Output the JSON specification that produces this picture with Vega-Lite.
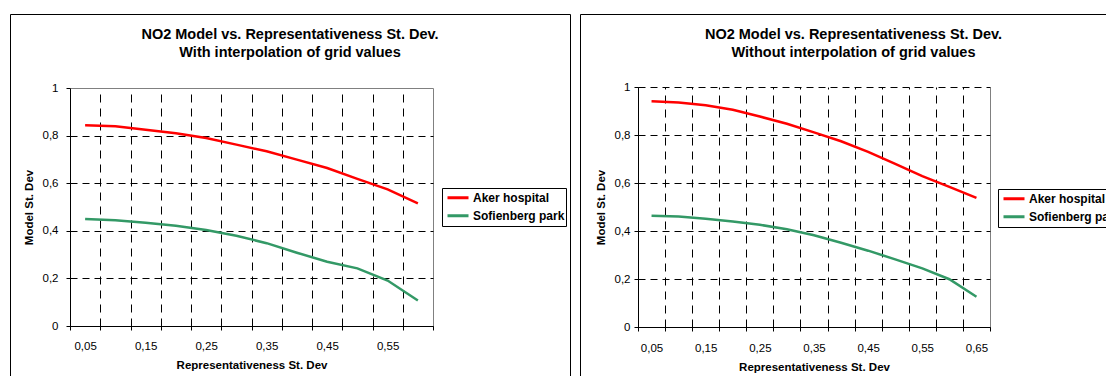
{
  "$schema": "https://vega.github.io/schema/vega-lite/v6.json",
  "padding": {"left": 9, "top": 13, "right": 0, "bottom": 0},
  "background": "white",
  "spacing": 8,
  "resolve": {"scale": {"color": "independent"}, "legend": {"color": "independent"}},
  "config": {
    "font": "Liberation Sans",
    "view": {"stroke": "#000", "strokeWidth": 1},
    "axis": {
      "labelFont": "Liberation Sans", "labelFontSize": 11.5, "labelColor": "#000",
      "titleFont": "Liberation Sans", "titleFontSize": 11.5, "titleFontWeight": "bold", "titleColor": "#000",
      "domainColor": "#000", "domainWidth": 1, "tickColor": "#000", "tickSize": 4, "tickWidth": 1,
      "gridWidth": 1, "labelOverlap": false, "labelFlush": false, "labelBound": false
    },
    "legend": {
      "labelFont": "Liberation Sans", "labelFontSize": 12, "labelFontWeight": "bold", "labelColor": "#000",
      "strokeColor": "#000", "strokeWidth": 1, "fillColor": "#fff", "padding": 1,
      "symbolType": "stroke", "symbolSize": 441, "symbolStrokeWidth": 3, "clipHeight": 17.5,
      "rowPadding": 0, "labelOffset": 3, "symbolOffset": 3
    }
  },
  "hconcat": [
    {
      "width": 560, "height": 363,
      "view": {"stroke": "#000", "strokeDash": [923, 560, 363, 0]},
      "title": {"text": ["NO2 Model vs. Representativeness St. Dev.", "With interpolation of grid values"], "frame": "group", "anchor": "middle", "baseline": "top", "offset": -46.5, "lineHeight": 18, "fontSize": 14.5, "fontWeight": "bold", "font": "Liberation Sans", "color": "#000"},
      "data": {"values": [
        {"rep": 0.05, "site": "Aker hospital", "model": 0.843},
        {"rep": 0.10, "site": "Aker hospital", "model": 0.839},
        {"rep": 0.15, "site": "Aker hospital", "model": 0.825},
        {"rep": 0.20, "site": "Aker hospital", "model": 0.810},
        {"rep": 0.25, "site": "Aker hospital", "model": 0.790},
        {"rep": 0.30, "site": "Aker hospital", "model": 0.762},
        {"rep": 0.35, "site": "Aker hospital", "model": 0.734},
        {"rep": 0.40, "site": "Aker hospital", "model": 0.699},
        {"rep": 0.45, "site": "Aker hospital", "model": 0.664},
        {"rep": 0.50, "site": "Aker hospital", "model": 0.618},
        {"rep": 0.55, "site": "Aker hospital", "model": 0.574},
        {"rep": 0.60, "site": "Aker hospital", "model": 0.515},
        {"rep": 0.05, "site": "Sofienberg park", "model": 0.450},
        {"rep": 0.10, "site": "Sofienberg park", "model": 0.444},
        {"rep": 0.15, "site": "Sofienberg park", "model": 0.434},
        {"rep": 0.20, "site": "Sofienberg park", "model": 0.421},
        {"rep": 0.25, "site": "Sofienberg park", "model": 0.403},
        {"rep": 0.30, "site": "Sofienberg park", "model": 0.379},
        {"rep": 0.35, "site": "Sofienberg park", "model": 0.348},
        {"rep": 0.40, "site": "Sofienberg park", "model": 0.308},
        {"rep": 0.45, "site": "Sofienberg park", "model": 0.270},
        {"rep": 0.50, "site": "Sofienberg park", "model": 0.242},
        {"rep": 0.55, "site": "Sofienberg park", "model": 0.191},
        {"rep": 0.60, "site": "Sofienberg park", "model": 0.107}
      ]},
      "resolve": {"axis": {"x": "independent"}},
      "layer": [
        {
          "mark": {"type": "line", "strokeWidth": 2.5},
          "encoding": {
            "x": {
              "field": "rep", "type": "ordinal",
              "scale": {"type": "band", "range": [60, 423], "paddingInner": 0, "paddingOuter": 0},
              "axis": {
                "title": "Representativeness St. Dev", "orient": "bottom", "offset": -51,
                "tickBand": "extent", "labelAngle": 0, "labelAlign": "center", "labelBaseline": "top",
                "labelExpr": "round(datum.value*100) % 10 == 5 ? replace(format(datum.value, '.2f'), '.', ',') : ''",
                "grid": false, "labelPadding": 10, "titlePadding": 8
              }
            },
            "y": {
              "field": "model", "type": "quantitative",
              "scale": {"domain": [0, 1], "range": [312, 74], "nice": false, "zero": true},
              "axis": {
                "title": "Model St. Dev", "offset": -60,
                "values": [0, 0.1, 0.2, 0.3, 0.4, 0.5, 0.6, 0.7, 0.8, 0.9, 1],
                "labelExpr": "round(datum.value*10) % 2 == 0 ? replace(format(datum.value, '.1~f'), '.', ',') : ''",
                "grid": true,
                "gridOpacity": {"condition": {"test": "round(datum.value*10) % 2 == 1", "value": 0}, "value": 1},
                "gridDash": {"condition": {"test": "datum.value == 1", "value": []}, "value": [7, 5]},
                "gridColor": {"condition": {"test": "datum.value == 1", "value": "#808080"}, "value": "#000"},
                "labelPadding": 8, "titlePadding": 8
              }
            },
            "color": {
              "field": "site", "type": "nominal",
              "scale": {"domain": ["Aker hospital", "Sofienberg park"], "range": ["#ff0000", "#339966"]},
              "legend": {"orient": "none", "legendX": 432, "legendY": 174, "title": null}
            }
          }
        },
        {
          "mark": {"type": "point", "opacity": 0},
          "encoding": {
            "x": {
              "field": "rep", "type": "ordinal",
              "axis": {
                "orient": "top", "offset": 0, "tickBand": "extent", "title": null,
                "labels": false, "ticks": false, "domain": false, "grid": true,
                "gridDash": {"condition": {"test": "datum.value == 0.6", "value": []}, "value": [8, 6]},
                "gridColor": {"condition": {"test": "datum.value == 0.6", "value": "#808080"}, "value": "#000"}
              }
            },
            "y": {"field": "model", "type": "quantitative"}
          }
        }
      ]
    },
    {
      "width": 529, "height": 363,
      "view": {"stroke": "#000", "strokeDash": [529, 892, 363, 0]},
      "title": {"text": ["NO2 Model vs. Representativeness St. Dev.", "Without interpolation of grid values"], "frame": "group", "anchor": "middle", "baseline": "top", "offset": -46.5, "dx": 9, "lineHeight": 18, "fontSize": 14.5, "fontWeight": "bold", "font": "Liberation Sans", "color": "#000"},
      "data": {"values": [
        {"rep": 0.05, "site": "Aker hospital", "model": 0.941},
        {"rep": 0.10, "site": "Aker hospital", "model": 0.935},
        {"rep": 0.15, "site": "Aker hospital", "model": 0.924},
        {"rep": 0.20, "site": "Aker hospital", "model": 0.905},
        {"rep": 0.25, "site": "Aker hospital", "model": 0.877},
        {"rep": 0.30, "site": "Aker hospital", "model": 0.847},
        {"rep": 0.35, "site": "Aker hospital", "model": 0.811},
        {"rep": 0.40, "site": "Aker hospital", "model": 0.774},
        {"rep": 0.45, "site": "Aker hospital", "model": 0.730},
        {"rep": 0.50, "site": "Aker hospital", "model": 0.680},
        {"rep": 0.55, "site": "Aker hospital", "model": 0.629},
        {"rep": 0.60, "site": "Aker hospital", "model": 0.584},
        {"rep": 0.65, "site": "Aker hospital", "model": 0.538},
        {"rep": 0.05, "site": "Sofienberg park", "model": 0.464},
        {"rep": 0.10, "site": "Sofienberg park", "model": 0.460},
        {"rep": 0.15, "site": "Sofienberg park", "model": 0.451},
        {"rep": 0.20, "site": "Sofienberg park", "model": 0.440},
        {"rep": 0.25, "site": "Sofienberg park", "model": 0.426},
        {"rep": 0.30, "site": "Sofienberg park", "model": 0.407},
        {"rep": 0.35, "site": "Sofienberg park", "model": 0.382},
        {"rep": 0.40, "site": "Sofienberg park", "model": 0.351},
        {"rep": 0.45, "site": "Sofienberg park", "model": 0.318},
        {"rep": 0.50, "site": "Sofienberg park", "model": 0.282},
        {"rep": 0.55, "site": "Sofienberg park", "model": 0.244},
        {"rep": 0.60, "site": "Sofienberg park", "model": 0.199},
        {"rep": 0.65, "site": "Sofienberg park", "model": 0.126}
      ]},
      "resolve": {"axis": {"x": "independent"}},
      "layer": [
        {
          "mark": {"type": "line", "strokeWidth": 2.5},
          "encoding": {
            "x": {
              "field": "rep", "type": "ordinal",
              "scale": {"type": "band", "range": [58, 410], "paddingInner": 0, "paddingOuter": 0},
              "axis": {
                "title": "Representativeness St. Dev", "orient": "bottom", "offset": -50,
                "tickBand": "extent", "labelAngle": 0, "labelAlign": "center", "labelBaseline": "top",
                "labelExpr": "round(datum.value*100) % 10 == 5 ? replace(format(datum.value, '.2f'), '.', ',') : ''",
                "grid": false, "labelPadding": 11, "titlePadding": 8
              }
            },
            "y": {
              "field": "model", "type": "quantitative",
              "scale": {"domain": [0, 1], "range": [313, 73], "nice": false, "zero": true},
              "axis": {
                "title": "Model St. Dev", "offset": -58,
                "values": [0, 0.1, 0.2, 0.3, 0.4, 0.5, 0.6, 0.7, 0.8, 0.9, 1],
                "labelExpr": "round(datum.value*10) % 2 == 0 ? replace(format(datum.value, '.1~f'), '.', ',') : ''",
                "grid": true,
                "gridOpacity": {"condition": {"test": "round(datum.value*10) % 2 == 1", "value": 0}, "value": 1},
                "gridDash": [7, 5],
                "gridColor": "#000",
                "labelPadding": 4, "titlePadding": 8
              }
            },
            "color": {
              "field": "site", "type": "nominal",
              "scale": {"domain": ["Aker hospital", "Sofienberg park"], "range": ["#ff0000", "#339966"]},
              "legend": {"orient": "none", "legendX": 418, "legendY": 175, "title": null}
            }
          }
        },
        {
          "mark": {"type": "point", "opacity": 0},
          "encoding": {
            "x": {
              "field": "rep", "type": "ordinal",
              "axis": {
                "orient": "top", "offset": 0, "tickBand": "extent", "title": null,
                "labels": false, "ticks": false, "domain": false, "grid": true,
                "gridDash": {"condition": {"test": "datum.value == 0.65", "value": []}, "value": [8, 6]},
                "gridColor": {"condition": {"test": "datum.value == 0.65", "value": "#808080"}, "value": "#000"}
              }
            },
            "y": {"field": "model", "type": "quantitative"}
          }
        }
      ]
    }
  ]
}
